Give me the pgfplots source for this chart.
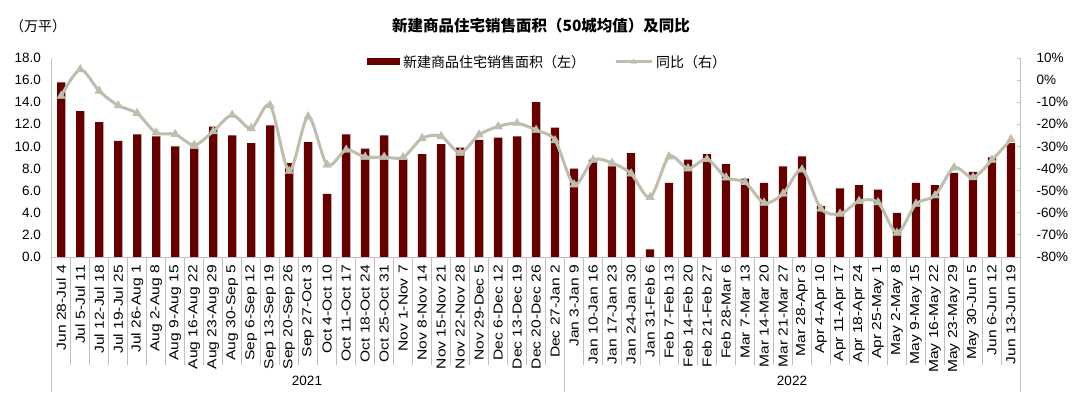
\documentclass[border=0pt]{standalone}
\usepackage{fontspec}
\setmainfont{Liberation Sans}
\newfontfamily\cjk{Noto Sans CJK SC}
\newfontfamily\xlab[FakeStretch=1.2]{Liberation Sans}
\usepackage{pgfplots}
\pgfplotsset{compat=1.18}
\definecolor{barc}{HTML}{640000}
\definecolor{linec}{HTML}{BEBEAE}
\definecolor{axc}{HTML}{BFBFBF}
\pgfplotsset{
  mylinelegend/.style={legend image code/.code={\draw[mark repeat=2,mark phase=2,##1] plot coordinates {(0pt,0pt) (18pt,0pt) (36pt,0pt)};}},
  mybarlegend/.style={legend image code/.code={\fill[barc] (0pt,-3.5pt) rectangle (33pt,3.5pt);}}
}
\begin{document}
\begin{tikzpicture}
\useasboundingbox (0,0) rectangle (1080pt,398pt);
\begin{axis}[
  at={(51.7pt,141pt)}, anchor=south west,
  scale only axis, width=968.8pt, height=199pt,
  xmin=0.5, xmax=51.5, ymin=0, ymax=18,
  clip=false,
  axis y line*=left, axis x line*=bottom,
  axis line style={-, draw=axc, line width=0.8pt},
  major tick length=0pt,
  ytick={0,2,...,18},
  yticklabels={0.0,2.0,4.0,6.0,8.0,10.0,12.0,14.0,16.0,18.0},
  yticklabel style={font=\fontsize{13.5}{14}\selectfont, anchor=east, inner sep=0pt},
  yticklabel shift=10.5pt,
  xtick={1,...,51},
  xticklabels={Jun 28-Jul 4, Jul 5-Jul 11, Jul 12-Jul 18, Jul 19-Jul 25, Jul 26-Aug 1, Aug 2-Aug 8, Aug 9-Aug 15, Aug 16-Aug 22, Aug 23-Aug 29, Aug 30-Sep 5, Sep 6-Sep 12, Sep 13-Sep 19, Sep 20-Sep 26, Sep 27-Oct 3, Oct 4-Oct 10, Oct 11-Oct 17, Oct 18-Oct 24, Oct 25-Oct 31, Nov 1-Nov 7, Nov 8-Nov 14, Nov 15-Nov 21, Nov 22-Nov 28, Nov 29-Dec 5, Dec 6-Dec 12, Dec 13-Dec 19, Dec 20-Dec 26, Dec 27-Jan 2, Jan 3-Jan 9, Jan 10-Jan 16, Jan 17-Jan 23, Jan 24-Jan 30, Jan 31-Feb 6, Feb 7-Feb 13, Feb 14-Feb 20, Feb 21-Feb 27, Feb 28-Mar 6, Mar 7-Mar 13, Mar 14-Mar 20, Mar 21-Mar 27, Mar 28-Apr 3, Apr 4-Apr 10, Apr 11-Apr 17, Apr 18-Apr 24, Apr 25-May 1, May 2-May 8, May 9-May 15, May 16-May 22, May 23-May 29, May 30-Jun 5, Jun 6-Jun 12, Jun 13-Jun 19},
  xticklabel style={rotate=90, anchor=east, inner sep=0pt, font=\xlab\fontsize{13}{13}\selectfont},
  xticklabel shift=8pt,
  tick style={draw=axc, line width=0.8pt},
  extra x ticks={1.5,2.5,...,26.5,28.5,29.5,...,50.5},
  extra x tick labels={},
  extra x tick style={tick align=outside, major tick length=108pt},
  legend columns=2,
  legend style={at={(0.3255,0.98)}, anchor=west, draw=none, fill=none, inner sep=0pt,
    font=\cjk\fontsize{14}{15}\selectfont,
    nodes={inner xsep=3pt, inner ysep=1pt},
    /tikz/every even column/.append style={column sep=26pt}},
]
\addplot[ybar, bar width=8.3pt, fill=barc, draw=none, mybarlegend] coordinates {
(1,15.8) (2,13.2) (3,12.2) (4,10.5) (5,11.1) (6,10.9) (7,10.0) (8,9.8) (9,11.8) (10,11.0)
(11,10.3) (12,11.9) (13,8.5) (14,10.4) (15,5.7) (16,11.1) (17,9.8) (18,11.0) (19,8.9) (20,9.3)
(21,10.2) (22,9.9) (23,10.6) (24,10.8) (25,10.9) (26,14.0) (27,11.7) (28,8.0) (29,8.8) (30,8.2)
(31,9.4) (32,0.7) (33,6.7) (34,8.8) (35,9.3) (36,8.4) (37,7.1) (38,6.7) (39,8.2) (40,9.1)
(41,4.6) (42,6.2) (43,6.5) (44,6.1) (45,4.0) (46,6.7) (47,6.5) (48,7.6) (49,7.7) (50,9.0)
(51,10.3)};
\addlegendentry{新建商品住宅销售面积（左）}
\addlegendimage{linec, line width=3pt, mark=triangle*, mark size=3pt, mark options={line width=0.4pt}, mylinelegend}
\addlegendentry{同比（右）}
\draw[axc, line width=0.8pt] (axis cs:0.5,0) -- ++(0pt,-135pt);
\draw[axc, line width=0.8pt] (axis cs:27.5,0) -- ++(0pt,-135pt);
\draw[axc, line width=0.8pt] (axis cs:51.5,0) -- ++(0pt,-135pt);
\end{axis}
\begin{axis}[
  at={(51.7pt,141pt)}, anchor=south west,
  scale only axis, width=968.8pt, height=199pt,
  xmin=0.5, xmax=51.5, ymin=-80, ymax=10,
  axis x line=none, axis y line*=right,
  axis line style={-, draw=axc, line width=0.8pt},
  ytick={-80,-70,...,10},
  yticklabels={-80\%,-70\%,-60\%,-50\%,-40\%,-30\%,-20\%,-10\%,0\%,10\%},
  tick align=inside, major tick length=4pt,
  tick style={draw=axc, line width=0.8pt},
  yticklabel style={font=\fontsize{13.5}{14}\selectfont, anchor=west, inner sep=0pt},
  yticklabel shift=16pt,
]
\addplot[smooth, draw=linec, line width=3pt, mark=triangle*, mark size=5pt,
  mark options={line width=0.4pt, solid, fill=linec, draw=linec}] coordinates {
(1,-7.2) (2,4.8) (3,-4.9) (4,-11.5) (5,-15.0) (6,-23.8) (7,-24.5) (8,-29.4) (9,-23.2) (10,-15.8)
(11,-21.8) (12,-11.4) (13,-41.2) (14,-16.5) (15,-38.3) (16,-31.6) (17,-34.8) (18,-34.8) (19,-34.9) (20,-26.3)
(21,-25.4) (22,-32.9) (23,-24.7) (24,-21.0) (25,-19.5) (26,-22.6) (27,-27.3) (28,-47.3) (29,-36.1) (30,-37.5)
(31,-42.3) (32,-53.0) (33,-34.6) (34,-40.0) (35,-35.8) (36,-44.1) (37,-46.2) (38,-55.5) (39,-51.4) (40,-40.5)
(41,-58.2) (42,-60.5) (43,-54.8) (44,-55.3) (45,-69.1) (46,-56.0) (47,-52.2) (48,-39.6) (49,-44.0) (50,-36.1)
(51,-26.8)};
\end{axis}
\node[font=\cjk\bfseries\fontsize{15.5}{16}\selectfont] at (541pt,372pt) {新建商品住宅销售面积（50城均值）及同比};
\node[font=\cjk\fontsize{14}{15}\selectfont] at (38pt,372pt) {（万平）};
\node[font=\fontsize{13.5}{14}\selectfont] at (307pt,17pt) {2021};
\node[font=\fontsize{13.5}{14}\selectfont] at (792pt,17pt) {2022};
\end{tikzpicture}
\end{document}
